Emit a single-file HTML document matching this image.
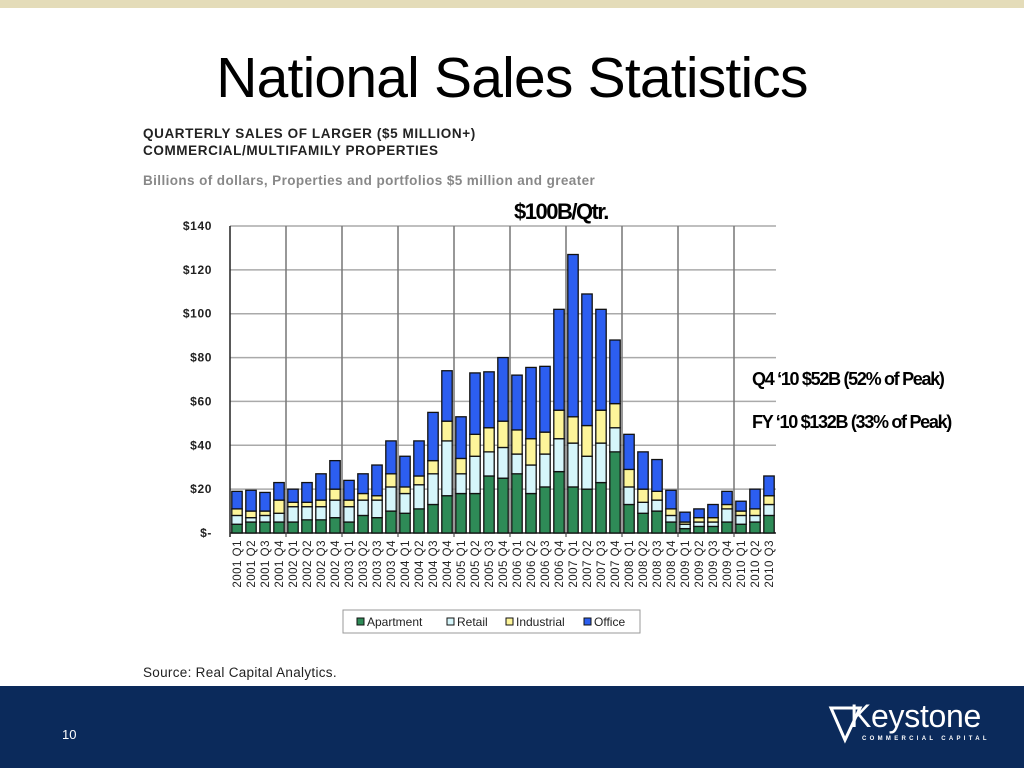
<!DOCTYPE html>
<html><head><meta charset="utf-8">
<style>
body{margin:0;width:1024px;height:768px;position:relative;background:#fff;overflow:hidden;font-family:"Liberation Sans",sans-serif}
.abs{position:absolute;white-space:nowrap}
</style></head>
<body>
<div class="abs" style="left:0;top:0;width:1024px;height:8px;background:#e4dcb9"></div>
<div class="abs" style="left:0;width:1024px;top:45px;text-align:center;font-size:57px;letter-spacing:-0.8px;color:#000">National Sales Statistics</div>
<div class="abs" style="left:143px;top:125px;font-size:13.5px;letter-spacing:0.6px;font-weight:bold;color:#222;line-height:17px">QUARTERLY SALES OF LARGER ($5 MILLION+)<br>COMMERCIAL/MULTIFAMILY PROPERTIES</div>
<div class="abs" style="left:143px;top:173px;font-size:13.5px;letter-spacing:0.4px;font-weight:bold;color:#888">Billions of dollars, Properties and portfolios $5 million and greater</div>
<div class="abs" style="left:514px;top:199px;font-size:22px;font-weight:bold;letter-spacing:-1.5px;color:#000">$100B/Qtr.</div>
<div class="abs" style="left:752px;top:369px;font-size:18px;font-weight:bold;letter-spacing:-1.3px;color:#000">Q4 ‘10 $52B (52% of Peak)</div>
<div class="abs" style="left:752px;top:412px;font-size:18px;font-weight:bold;letter-spacing:-1.3px;color:#000">FY ‘10 $132B (33% of Peak)</div>
<svg class="abs" style="left:0;top:0" width="1024" height="686" id="chart"></svg>
<div class="abs" style="left:143px;top:665px;font-size:13.5px;letter-spacing:0.3px;color:#222">Source: Real Capital Analytics.</div>
<div class="abs" style="left:0;top:686px;width:1024px;height:82px;background:#0b2a5b"></div>
<div class="abs" style="left:62px;top:727px;font-size:13px;color:#fff">10</div>
<svg class="abs" style="left:828px;top:704px" width="36" height="40"><path d="M3 4 L32 4 L17 36 Z" fill="none" stroke="#fff" stroke-width="3"/></svg>
<div class="abs" style="left:850px;top:698px;font-size:32px;color:#fff;letter-spacing:-0.3px">Keystone</div>
<div class="abs" style="left:862px;top:736px;font-size:6px;font-weight:bold;color:#fff;letter-spacing:3.3px">COMMERCIAL CAPITAL</div>
<script>
const categories=[];
const years=["2001","2002","2003","2004","2005","2006","2007","2008","2009","2010"];
years.forEach(y=>{for(let q=1;q<=4;q++){if(!(y==="2010"&&q===4))categories.push(y+" Q"+q);}});
const apartment=[4,5,5,5,5,6,6,7,5,8,7,10,9,11,13,17,18,18,26,25,27,18,21,28,21,20,23,37,13,9,10,5,2,3,3,5,4,5,8];
const retail=[4,2,3,4,7,6,6,8,7,7,8,11,9,11,14,25,9,17,11,14,9,13,15,15,20,15,18,11,8,5,5,3,2,2,2,6,4,3,5];
const industrial=[3,3,2,6,2,2,3,5,3,3,2,6,3,4,6,9,7,10,11,12,11,12,10,13,12,14,15,11,8,6,4,3,1,2,2,2,2,3,4];
const office=[8,9.5,8.5,8,6,9,12,13,9,9,14,15,14,16,22,23,19,28,25.5,29,25,32.5,30,46,74,60,46,29,16,17,14.5,8.5,4.5,4,6,6,4.5,9,9];
const yTicks=[0,20,40,60,80,100,120,140];
const yTickLabels=["$-","$20","$40","$60","$80","$100","$120","$140"];
const seriesNames=["Apartment","Retail","Industrial","Office"];
const seriesColors=["#2e8b57","#d6f6fb","#fdf59a","#2c5ef0"];
const NS="http://www.w3.org/2000/svg";
const svg=document.getElementById("chart");
const x0=230,x1=776,yBase=533,yTop=226,yMax=140;
const step=(x1-x0)/categories.length;
const yS=v=>yBase-(v/yMax)*(yBase-yTop);
const xS=i=>x0+i*step;
function mk(t,a){const e=document.createElementNS(NS,t);for(const k in a)e.setAttribute(k,a[k]);svg.appendChild(e);return e;}
yTicks.forEach((v,i)=>{
 if(v>0){const g=mk("line",{x1:x0,x2:x1,y1:yS(v),y2:yS(v),stroke:"#aaa","stroke-width":1.5});
 
 }
 const t=mk("text",{x:212,y:yS(v)+4,"text-anchor":"end","font-size":12,"letter-spacing":0.6,"font-weight":"bold","font-family":"Liberation Sans, sans-serif",fill:"#222"});
 t.textContent=yTickLabels[i];
 
 
});
for(let i=0;i<=categories.length;i+=4){
 const g=mk("line",{x1:xS(i),x2:xS(i),y1:yTop,y2:yBase+4,stroke:i===0?"#222":"#777","stroke-width":1.5});
 
 
}
const base=mk("line",{x1:x0,x2:x1,y1:yBase,y2:yBase,stroke:"#222","stroke-width":1.5});


const series=[apartment,retail,industrial,office];
categories.forEach((c,i)=>{
 let cum=0;
 series.forEach((s,k)=>{
  const v=s[i];
  const r=mk("rect",{x:xS(i)+1.8,y:yS(cum+v),width:step-3.6,height:yS(cum)-yS(cum+v),fill:seriesColors[k],stroke:"#111","stroke-width":1.3});
  
  
  cum+=v;
 });
 const cx=xS(i)+step/2+4;
 const t=mk("text",{x:cx,y:540,"text-anchor":"end","font-size":11.5,"letter-spacing":0.5,"font-family":"Liberation Sans, sans-serif",fill:"#222",transform:`rotate(-90 ${cx} 540)`});
 t.textContent=c;
 
 
});
const lg=mk("rect",{x:343,y:610,width:297,height:23,fill:"#fff",stroke:"#999"});


const lx=[357,447,506,584];
seriesNames.forEach((n,k)=>{
 const s=mk("rect",{x:lx[k],y:618,width:7,height:7,fill:seriesColors[k],stroke:"#111"});
 
 
 const t=mk("text",{x:lx[k]+10,y:626,"font-size":12,"font-family":"Liberation Sans, sans-serif",fill:"#222"});
 t.textContent=n;
 
 
});
</script>
</body></html>
